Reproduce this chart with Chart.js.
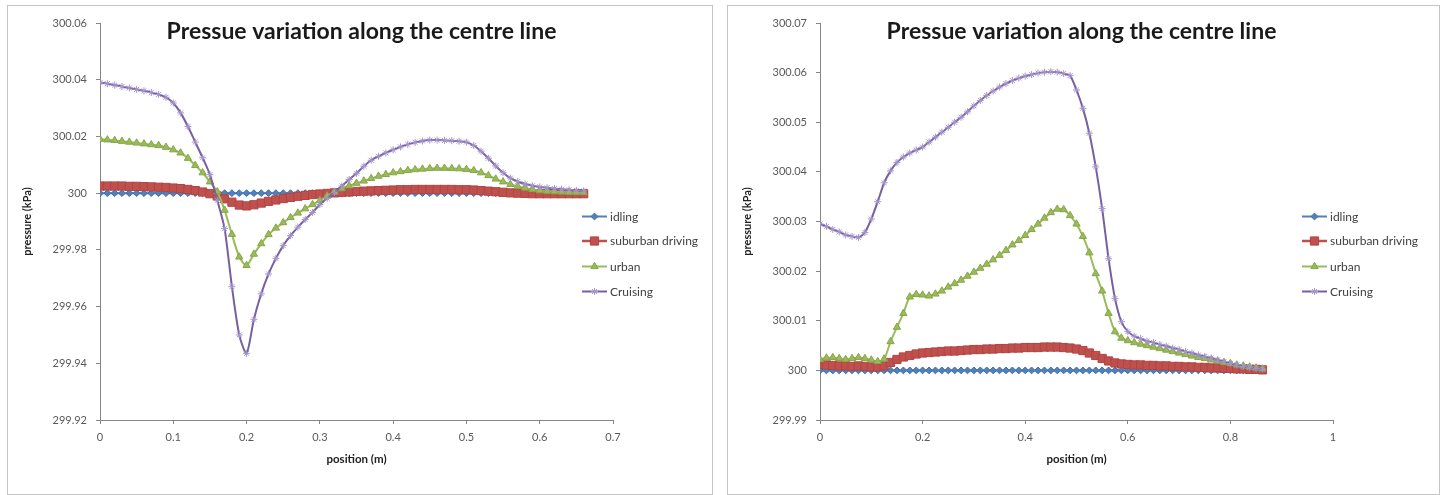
<!DOCTYPE html>
<html>
<head>
<meta charset="utf-8">
<title>Pressue variation along the centre line</title>
<script src="https://cdn.jsdelivr.net/npm/chart.js@4/dist/chart.umd.min.js"></script>
<style>
  html, body { margin: 0; padding: 0; background: #ffffff; }
  body { width: 1443px; height: 495px; position: relative; overflow: hidden; }
  .frame { position: absolute; top: 5px; height: 488px; border: 1px solid #c4c4c4; box-sizing: content-box; }
  #frameA { left: 7px; width: 704px; }
  #frameB { left: 727px; width: 711px; }
  canvas { position: absolute; top: 0; }
  #chartA { left: 0; }
  #chartB { left: 720px; }
</style>
</head>
<body>
<div class="frame" id="frameA"></div>
<div class="frame" id="frameB"></div>
<canvas id="chartA" width="720" height="495"></canvas>
<canvas id="chartB" width="723" height="495"></canvas>
<script>
// ---- Left plot: positions (m) and pressures (kPa) ----
const positionsA = [0, 0.01, 0.02, 0.03, 0.04, 0.05, 0.06, 0.07, 0.08, 0.09,
  0.10, 0.11, 0.12, 0.13, 0.14, 0.15, 0.16, 0.17, 0.18, 0.19,
  0.20, 0.21, 0.22, 0.23, 0.24, 0.25, 0.26, 0.27, 0.28, 0.29,
  0.30, 0.31, 0.32, 0.33, 0.34, 0.35, 0.36, 0.37, 0.38, 0.39,
  0.40, 0.41, 0.42, 0.43, 0.44, 0.45, 0.46, 0.47, 0.48, 0.49,
  0.50, 0.51, 0.52, 0.53, 0.54, 0.55, 0.56, 0.57, 0.58, 0.59,
  0.60, 0.61, 0.62, 0.63, 0.64, 0.65, 0.66];

const idlingA = [300, 300, 300, 300, 300, 300, 300, 300, 300, 300,
  300, 300, 300, 300, 300, 300, 300, 300, 300, 300,
  300, 300, 300, 300, 300, 300, 300, 300, 300, 300,
  300, 300, 300, 300, 300, 300, 300, 300, 300, 300,
  300, 300, 300, 300, 300, 300, 300, 300, 300, 300,
  300, 300, 300, 300, 300, 300, 300, 300, 300, 300,
  300, 300, 300, 300, 300, 300, 300];

const suburbanA = [300.0025, 300.0025, 300.0025, 300.0025, 300.0024, 300.0024, 300.0023, 300.0022, 300.0021, 300.0020,
  300.0018, 300.0016, 300.0013, 300.0009, 300.0004, 299.9998, 299.9990, 299.9980, 299.9968, 299.9958,
  299.9955, 299.9959, 299.9965, 299.9971, 299.9976, 299.9981, 299.9985, 299.9989, 299.9992, 299.9995,
  299.9997, 299.9999, 300.0001, 300.0003, 300.0004, 300.0006, 300.0007, 300.0008, 300.0009, 300.0010,
  300.0011, 300.0012, 300.0012, 300.0013, 300.0013, 300.0013, 300.0013, 300.0013, 300.0013, 300.0012,
  300.0012, 300.0011, 300.0009, 300.0007, 300.0005, 300.0003, 300.0001, 300.0000, 299.9999, 299.9998,
  299.9998, 299.9998, 299.9998, 299.9998, 299.9998, 299.9998, 299.9998];

const urbanA = [300.0190, 300.0188, 300.0186, 300.0183, 300.0180, 300.0177, 300.0174, 300.0171, 300.0168, 300.0162,
  300.0153, 300.0142, 300.0123, 300.0098, 300.0072, 300.0040, 300.0005, 299.9940, 299.9855, 299.9775,
  299.9745, 299.9785, 299.9822, 299.9854, 299.9877, 299.9896, 299.9914, 299.9930, 299.9945, 299.9960,
  299.9974, 299.9990, 300.0004, 300.0016, 300.0026, 300.0035, 300.0043, 300.0052, 300.0060, 300.0066,
  300.0072, 300.0076, 300.0080, 300.0083, 300.0085, 300.0087, 300.0088, 300.0088, 300.0087, 300.0086,
  300.0084, 300.0080, 300.0072, 300.0062, 300.0050, 300.0040, 300.0031, 300.0024, 300.0018, 300.0013,
  300.0009, 300.0007, 300.0005, 300.0004, 300.0003, 300.0002, 300.0002];

const cruisingA = [300.0390, 300.0386, 300.0381, 300.0376, 300.0371, 300.0366, 300.0361, 300.0355, 300.0348, 300.0338,
  300.0318, 300.0283, 300.0235, 300.0180, 300.0125, 300.0065, 299.9975, 299.9875, 299.9670, 299.9500,
  299.9435, 299.9555, 299.9645, 299.9715, 299.9770, 299.9815, 299.9850, 299.9880, 299.9907, 299.9932,
  299.9960, 299.9982, 300.0003, 300.0025, 300.0048, 300.0070, 300.0095, 300.0116, 300.0130, 300.0142,
  300.0153, 300.0163, 300.0172, 300.0179, 300.0184, 300.0187, 300.0187, 300.0186, 300.0185, 300.0183,
  300.0180, 300.0168, 300.0148, 300.0123, 300.0096, 300.0072, 300.0053, 300.0041, 300.0032, 300.0026,
  300.0022, 300.0019, 300.0016, 300.0014, 300.0012, 300.0010, 300.0008];

const xTicksA = [0, 0.1, 0.2, 0.3, 0.4, 0.5, 0.6, 0.7];
const yTicksA = [299.92, 299.94, 299.96, 299.98, 300, 300.02, 300.04, 300.06];

// ---- Right plot: positions (m) and pressures (kPa) ----
const positionsB = [0, 0.0125, 0.025, 0.0375, 0.05, 0.0625, 0.075, 0.0875, 0.1, 0.1125,
  0.125, 0.1375, 0.15, 0.1625, 0.175, 0.1875, 0.2, 0.2125, 0.225, 0.2375,
  0.25, 0.2625, 0.275, 0.2875, 0.3, 0.3125, 0.325, 0.3375, 0.35, 0.3625,
  0.375, 0.3875, 0.4, 0.4125, 0.425, 0.4375, 0.45, 0.4625, 0.475, 0.4875,
  0.5, 0.5125, 0.525, 0.5375, 0.55, 0.5625, 0.575, 0.5875, 0.6, 0.6125,
  0.625, 0.6375, 0.65, 0.6625, 0.675, 0.6875, 0.7, 0.7125, 0.725, 0.7375,
  0.75, 0.7625, 0.775, 0.7875, 0.8, 0.8125, 0.825, 0.8375, 0.85, 0.8625];

const idlingB = [300, 300, 300, 300, 300, 300, 300, 300, 300, 300,
  300, 300, 300, 300, 300, 300, 300, 300, 300, 300,
  300, 300, 300, 300, 300, 300, 300, 300, 300, 300,
  300, 300, 300, 300, 300, 300, 300, 300, 300, 300,
  300, 300, 300, 300, 300, 300, 300, 300, 300, 300,
  300, 300, 300, 300, 300, 300, 300, 300, 300, 300,
  300, 300, 300, 300, 300, 300, 300, 300, 300, 300];

const suburbanB = [300.0012, 300.0011, 300.0010, 300.0009, 300.0009, 300.0008, 300.0009, 300.0008, 300.0007, 300.0007,
  300.0009, 300.0016, 300.0022, 300.0027, 300.0030, 300.0033, 300.0035, 300.0036, 300.0037, 300.0038,
  300.0039, 300.0039, 300.0040, 300.0041, 300.0042, 300.0042, 300.0043, 300.0043, 300.0044, 300.0044,
  300.0045, 300.0045, 300.0046, 300.0046, 300.0046, 300.0047, 300.0047, 300.0047, 300.0046, 300.0045,
  300.0043, 300.0040, 300.0035, 300.0030, 300.0024, 300.0019, 300.0015, 300.0013, 300.0012, 300.0011,
  300.0011, 300.0010, 300.0010, 300.0009, 300.0009, 300.0008, 300.0008, 300.0007, 300.0007, 300.0006,
  300.0006, 300.0005, 300.0005, 300.0004, 300.0004, 300.0003, 300.0003, 300.0002, 300.0002, 300.0001];

const urbanB = [300.0022, 300.0025, 300.0026, 300.0024, 300.0022, 300.0024, 300.0026, 300.0024, 300.0021, 300.0018,
  300.0023, 300.0058, 300.0087, 300.0115, 300.0148, 300.0153, 300.0152, 300.0150, 300.0154, 300.0160,
  300.0168, 300.0175, 300.0182, 300.0190, 300.0198, 300.0206, 300.0214, 300.0223, 300.0232, 300.0242,
  300.0253, 300.0262, 300.0272, 300.0284, 300.0295, 300.0307, 300.0318, 300.0325, 300.0324, 300.0312,
  300.0295, 300.0270, 300.0237, 300.0195, 300.0160, 300.0115, 300.0078, 300.0065, 300.0060, 300.0056,
  300.0053, 300.0050, 300.0047, 300.0044, 300.0041, 300.0038, 300.0035, 300.0032, 300.0029, 300.0026,
  300.0024, 300.0021, 300.0019, 300.0016, 300.0014, 300.0011, 300.0009, 300.0007, 300.0005, 300.0003];

const cruisingB = [300.0295, 300.0290, 300.0284, 300.0279, 300.0273, 300.0270, 300.0268, 300.0278, 300.0305, 300.0340,
  300.0378, 300.0402, 300.0419, 300.0430, 300.0438, 300.0444, 300.0450, 300.0460, 300.0470, 300.0480,
  300.0490, 300.0500, 300.0510, 300.0521, 300.0533, 300.0544, 300.0554, 300.0563, 300.0571, 300.0578,
  300.0584, 300.0589, 300.0593, 300.0596, 300.0599, 300.0601, 300.0602, 300.0601, 300.0598, 300.0594,
  300.0565, 300.0528, 300.0478, 300.0410, 300.0326, 300.0225, 300.0145, 300.0098, 300.0078, 300.0069,
  300.0064, 300.0059, 300.0056, 300.0052, 300.0049, 300.0045, 300.0042, 300.0038, 300.0035, 300.0031,
  300.0028, 300.0025, 300.0021, 300.0018, 300.0014, 300.0011, 300.0008, 300.0006, 300.0004, 300.0003];

const xTicksB = [0, 0.2, 0.4, 0.6, 0.8, 1];
const yTicksB = [299.99, 300, 300.01, 300.02, 300.03, 300.04, 300.05, 300.06, 300.07];

const seriesNames = ['idling', 'suburban driving', 'urban', 'Cruising'];
const chartTitle = 'Pressue variation along the centre line';
const xTitle = 'position (m)';
const yTitle = 'pressure (kPa)';

// ---- styling ----
const FONT = 'Lato, "Open Sans", "DejaVu Sans", sans-serif';
const AXIS = '#868686';
const seriesStyles = [
  { line: '#4F81BD', fill: '#4F81BD', edge: '#3f6fa8', shape: 'rectRot', r: 3.4, bw: 1, lw: 2 },
  { line: '#C0504D', fill: '#C0504D', edge: '#b04542', shape: 'rect', r: 5.8, bw: 1, lw: 2.5 },
  { line: '#9BBB59', fill: '#9BBB59', edge: '#86a648', shape: 'triangle', r: 4.2, bw: 1, lw: 2 },
  { line: '#7660A0', fill: 'rgba(0,0,0,0)', edge: '#a595cc', shape: 'star', r: 3.5, bw: 1, lw: 2 }
];

function fmt(v) {
  return String(Number(Number(v).toFixed(2)));
}

function toPoints(xs, ys) {
  return xs.map((x, i) => ({ x: x, y: ys[i] }));
}

function drawMarker(ctx, st, x, y) {
  if (Chart.helpers && Chart.helpers.drawPoint) {
    ctx.save();
    ctx.fillStyle = st.fill;
    ctx.strokeStyle = st.edge;
    ctx.lineWidth = st.bw;
    Chart.helpers.drawPoint(ctx, { pointStyle: st.shape, radius: st.r, rotation: 0, borderWidth: st.bw }, x, y);
    ctx.restore();
  }
}

// Title and legend drawn on top of the plot, Excel-style
const overlayPlugin = {
  id: 'overlay',
  afterDraw(chart) {
    const ctx = chart.ctx;
    ctx.save();
    ctx.font = 'bold 23px ' + FONT;
    ctx.fillStyle = '#1a1a1a';
    ctx.textAlign = 'center';
    ctx.textBaseline = 'middle';
    ctx.fillText(chartTitle, 361.5, 32);

    const ys = [216.5, 241, 266.5, 291.5];
    ctx.font = '12px ' + FONT;
    ctx.textAlign = 'left';
    seriesNames.forEach((name, i) => {
      const st = seriesStyles[i];
      ctx.strokeStyle = st.line;
      ctx.lineWidth = st.lw;
      ctx.beginPath();
      ctx.moveTo(582, ys[i]);
      ctx.lineTo(607, ys[i]);
      ctx.stroke();
      drawMarker(ctx, st, 594.5, ys[i]);
      ctx.fillStyle = '#404040';
      ctx.fillText(name, 610, ys[i] + 0.5);
    });
    ctx.restore();
  }
};

function makeChart(id, xs, data, xTicks, yTicks, xMax, yMin, yMax, rightPad) {
  const datasets = data.map((ys, i) => {
    const st = seriesStyles[i];
    return {
      label: seriesNames[i],
      data: toPoints(xs, ys),
      borderColor: st.line,
      borderWidth: st.lw,
      backgroundColor: st.fill,
      pointStyle: st.shape,
      pointRadius: st.r,
      pointBorderWidth: st.bw,
      pointBackgroundColor: st.fill,
      pointBorderColor: st.edge,
      tension: 0.25,
      order: 3 - i
    };
  });

  return new Chart(document.getElementById(id), {
    type: 'line',
    data: { datasets: datasets },
    plugins: [overlayPlugin],
    options: {
      responsive: false,
      animation: false,
      events: [],
      layout: { padding: { left: 20.4, top: 23, right: rightPad, bottom: 29.1 } },
      plugins: { legend: { display: false }, tooltip: { enabled: false }, title: { display: false } },
      scales: {
        x: {
          type: 'linear',
          min: 0,
          max: xMax,
          afterBuildTicks: s => { s.ticks = xTicks.map(v => ({ value: v })); },
          afterFit: s => { s.height = 45.9; },
          grid: { drawOnChartArea: false, drawTicks: true, tickLength: 4, color: AXIS },
          border: { display: true, color: AXIS, width: 1 },
          ticks: { padding: 7, color: '#595959', font: { family: FONT, size: 11 }, maxRotation: 0, autoSkip: false, callback: v => fmt(v) },
          title: { display: true, text: xTitle, color: '#222222', padding: 0, font: { family: FONT, size: 11.5, weight: 'bold' } }
        },
        y: {
          type: 'linear',
          min: yMin,
          max: yMax,
          afterBuildTicks: s => { s.ticks = yTicks.map(v => ({ value: v })); },
          afterFit: s => { s.width = 79.6; },
          grid: { drawOnChartArea: false, drawTicks: true, tickLength: 4, color: AXIS },
          border: { display: true, color: AXIS, width: 1 },
          ticks: { padding: 9, color: '#595959', font: { family: FONT, size: 11 }, autoSkip: false, callback: v => fmt(v) },
          title: { display: true, text: yTitle, color: '#222222', padding: 0, font: { family: FONT, size: 11, weight: 'bold' } }
        }
      }
    }
  });
}

makeChart('chartA', positionsA, [idlingA, suburbanA, urbanA, cruisingA], xTicksA, yTicksA, 0.7, 299.92, 300.06, 107);
makeChart('chartB', positionsB, [idlingB, suburbanB, urbanB, cruisingB], xTicksB, yTicksB, 1, 299.99, 300.07, 110);
</script>
</body>
</html>
